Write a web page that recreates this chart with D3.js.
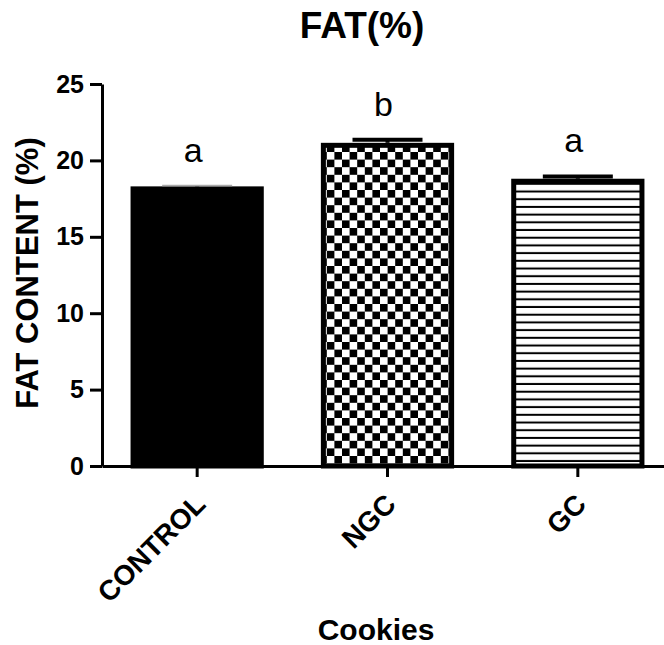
<!DOCTYPE html>
<html>
<head>
<meta charset="utf-8">
<script src="https://cdn.jsdelivr.net/npm/d3@7"></script>
<style>
  body { margin: 0; background: #fff; }
  svg { display: block; font-family: Arial, 'Liberation Sans', sans-serif; }
</style>
</head>
<body>
<div id="chart"></div>
<script>
const categories = ['CONTROL', 'NGC', 'GC'];
const values = [18.3, 21.15, 18.8];
const errors = [0.05, 0.2, 0.15];
const letters = ['a', 'b', 'a'];
const fills = ['solid', 'checker', 'lines'];
const yTicks = [0, 5, 10, 15, 20, 25];

const width = 664;
const height = 645;
const margin = { t: 84, r: -9, l: 102, b: 179 };
const stroke = 3;

const svg = d3.select('#chart').append('svg')
  .attr('width', width)
  .attr('height', height)
  .attr('viewBox', [0, 0, width, height])
  .attr('xmlns', 'http://www.w3.org/2000/svg');

svg.append('rect').attr('width', width).attr('height', height).attr('fill', '#fff');

// fill patterns
const defs = svg.append('defs');
const cell = 7.6;
defs.append('pattern')
  .attr('id', 'checker')
  .attr('patternUnits', 'userSpaceOnUse')
  .attr('width', cell * 2)
  .attr('height', cell * 2)
  .call(p => p.append('rect').attr('width', cell * 2).attr('height', cell * 2).attr('fill', '#fff'))
  .call(p => p.append('rect').attr('width', cell).attr('height', cell).attr('fill', '#000'))
  .call(p => p.append('rect').attr('x', cell).attr('y', cell).attr('width', cell).attr('height', cell).attr('fill', '#000'));

const gap = 7.7;
defs.append('pattern')
  .attr('id', 'lines')
  .attr('patternUnits', 'userSpaceOnUse')
  .attr('width', 20)
  .attr('height', gap)
  .call(p => p.append('rect').attr('width', 20).attr('height', gap).attr('fill', '#fff'))
  .call(p => p.append('rect').attr('y', gap - 2).attr('width', 20).attr('height', 2).attr('fill', '#000'));

const x = d3.scaleBand()
  .domain(categories)
  .range([margin.l, width - margin.r])
  .paddingInner(0.3)
  .paddingOuter(0.15);

const y = d3.scaleLinear()
  .domain([0, 25])
  .range([height - margin.b, margin.t]);

const data = categories.map((c, i) => ({ c, v: values[i], e: errors[i], letter: letters[i], fill: fills[i] }));

// bars
const bw = 5;
svg.append('g')
  .selectAll()
  .data(data)
  .join('rect')
  .attr('x', d => x(d.c) + bw / 2)
  .attr('y', d => y(d.v) + bw / 2)
  .attr('width', x.bandwidth() - bw)
  .attr('height', d => y(0) - y(d.v) - bw / 2)
  .attr('fill', d => d.fill === 'solid' ? '#000' : `url(#${d.fill})`)
  .attr('stroke', '#000')
  .attr('stroke-width', bw);

// error bars
const capW = 70;
svg.append('g')
  .selectAll()
  .data(data)
  .join('g')
  .call(g => g.append('line')
    .attr('x1', d => x(d.c) + x.bandwidth() / 2)
    .attr('x2', d => x(d.c) + x.bandwidth() / 2)
    .attr('y1', d => y(d.v))
    .attr('y2', d => y(d.v + d.e))
    .attr('stroke', '#000')
    .attr('stroke-width', 4))
  .call(g => g.append('line')
    .attr('x1', d => x(d.c) + x.bandwidth() / 2 - capW / 2)
    .attr('x2', d => x(d.c) + x.bandwidth() / 2 + capW / 2)
    .attr('y1', d => y(d.v + d.e))
    .attr('y2', d => y(d.v + d.e))
    .attr('stroke', d => d.fill === 'solid' ? '#aaa' : '#000')
    .attr('stroke-width', d => d.fill === 'solid' ? 1.5 : 4));

// significance letters
svg.append('g')
  .selectAll()
  .data(data)
  .join('text')
  .attr('x', d => x(d.c) + x.bandwidth() / 2 - 4)
  .attr('y', d => y(d.v + d.e) - 24)
  .attr('text-anchor', 'middle')
  .attr('font-size', 34)
  .attr('fill', '#000')
  .text(d => d.letter);

// y axis
svg.append('g')
  .attr('transform', `translate(${margin.l},0)`)
  .call(d3.axisLeft(y).tickValues(yTicks).tickSize(12).tickSizeOuter(0).tickPadding(6))
  .call(g => g.selectAll('path, line').attr('stroke', '#000').attr('stroke-width', stroke))
  .call(g => g.selectAll('text')
    .attr('font-size', 25)
    .attr('font-weight', 'bold')
    .attr('font-family', 'Arial, Liberation Sans, sans-serif')
    .attr('fill', '#000'));

// x axis
svg.append('g')
  .attr('transform', `translate(0,${y(0)})`)
  .call(d3.axisBottom(x).tickSize(11).tickSizeOuter(0))
  .call(g => g.selectAll('path, line').attr('stroke', '#000').attr('stroke-width', stroke))
  .call(g => g.selectAll('text')
    .attr('x', 0)
    .attr('y', 0)
    .attr('dy', 0)
    .attr('transform', 'translate(10,40) rotate(-45)')
    .attr('text-anchor', 'end')
    .attr('font-size', 28)
    .attr('font-weight', 'bold')
    .attr('font-family', 'Arial, Liberation Sans, sans-serif')
    .attr('fill', '#000'));

// title and axis labels
svg.append('text')
  .attr('x', 362)
  .attr('y', 38)
  .attr('text-anchor', 'middle')
  .attr('font-size', 37)
  .attr('font-weight', 'bold')
  .text('FAT(%)');

svg.append('text')
  .attr('transform', 'translate(38,273) rotate(-90)')
  .attr('text-anchor', 'middle')
  .attr('font-size', 31)
  .attr('font-weight', 'bold')
  .text('FAT CONTENT (%)');

svg.append('text')
  .attr('x', 376)
  .attr('y', 640)
  .attr('text-anchor', 'middle')
  .attr('font-size', 30)
  .attr('font-weight', 'bold')
  .text('Cookies');
</script>
</body>
</html>
